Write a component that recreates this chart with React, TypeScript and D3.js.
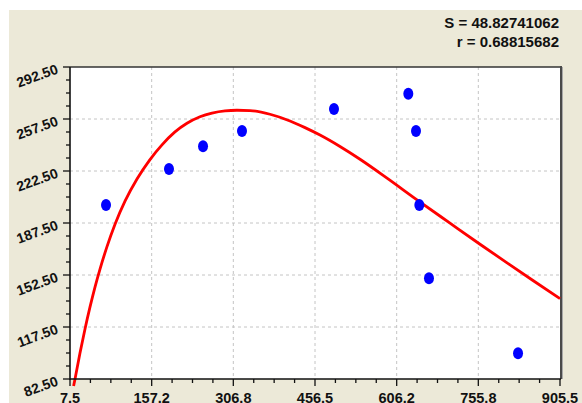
import React from "react";
import * as d3 from "d3";

const xTickLabels = ["7.5", "157.2", "306.8", "456.5", "606.2", "755.8", "905.5"];
const yTickLabels = ["82.50", "117.50", "152.50", "187.50", "222.50", "257.50", "292.50"];

const pointX = [73.5, 188.9, 251.3, 322.7, 491.3, 627.5, 641.6, 647.7, 665.4, 828.6];
const pointY = [199.6, 223.8, 239.1, 249.4, 264.2, 274.5, 249.4, 199.6, 150.3, 99.8];

const curveX = [14.1, 16.7, 25.8, 35.0, 44.2, 53.3, 62.5, 75.3, 90.0, 108.3, 130.3, 154.1, 176.1, 199.9, 221.9, 245.7, 267.7, 291.6, 313.5, 337.4, 374.0, 410.7, 438.2, 465.7, 502.3, 539.0, 588.5, 643.4, 703.9, 758.9, 813.9, 856.0, 905.5];
const curveY = [77.8, 82.5, 100.0, 116.2, 131.0, 144.4, 156.5, 171.6, 186.7, 202.2, 217.1, 230.2, 240.1, 248.8, 254.6, 259.0, 261.5, 263.0, 263.4, 263.2, 260.7, 256.2, 251.7, 246.7, 239.0, 230.4, 217.7, 203.1, 187.4, 173.2, 159.3, 148.8, 136.6];

const statLines = ["S = 48.82741062", "r = 0.68815682"];

export default function App() {
  const W = 582, H = 403;
  const L = 70, R = 560, T = 67, B = 379;
  const xVals = xTickLabels.map(Number);
  const yVals = yTickLabels.map(Number);
  const x = d3.scaleLinear().domain([xVals[0], xVals[xVals.length - 1]]).range([L, R]);
  const y = d3.scaleLinear().domain([yVals[0], yVals[yVals.length - 1]]).range([B, T]);

  const xMinor: number[] = [];
  for (let i = 0; i < xVals.length - 1; i++) {
    for (let k = 1; k < 4; k++) xMinor.push(xVals[i] + ((xVals[i + 1] - xVals[i]) * k) / 4);
  }
  const yMinor: number[] = [];
  for (let i = 0; i < yVals.length - 1; i++) {
    for (let k = 1; k < 4; k++) yMinor.push(yVals[i] + ((yVals[i + 1] - yVals[i]) * k) / 4);
  }

  const line = d3
    .line<number>()
    .x((_, i) => x(curveX[i]))
    .y((_, i) => y(curveY[i]))
    .curve(d3.curveMonotoneX);
  const pathD = line(curveX) || "";

  const font = "'Liberation Sans', Arial, sans-serif";

  return (
    <svg
      width={W}
      height={H}
      style={{ position: "absolute", left: 0, top: 0, display: "block" }}
    >
      <rect x={0} y={0} width={W} height={H} fill="#ffffff" />
      <rect x={9} y={10} width={W - 9} height={H - 10} fill="#ece9d8" />
      <rect x={L} y={T} width={R - L} height={B - T} fill="#ffffff" />

      {/* grid */}
      {xVals.slice(1, -1).map((v, i) => (
        <line key={"gx" + i} x1={x(v)} x2={x(v)} y1={T} y2={B} stroke="#c4c4c4" strokeWidth={1} strokeDasharray="3,3" />
      ))}
      {yVals.slice(1, -1).map((v, i) => (
        <line key={"gy" + i} x1={L} x2={R} y1={y(v)} y2={y(v)} stroke="#c4c4c4" strokeWidth={1} strokeDasharray="3,3" />
      ))}

      {/* borders */}
      <line x1={L} x2={R} y1={T} y2={T} stroke="#333" strokeWidth={1.5} />
      <line x1={R + 1} x2={R + 1} y1={T - 1} y2={B} stroke="#4a4a4a" strokeWidth={2} />
      <line x1={R + 2.5} x2={R + 2.5} y1={T} y2={B} stroke="#a8a8a8" strokeWidth={1} />

      {/* curve */}
      <path d={pathD} fill="none" stroke="#ff0000" strokeWidth={2.8} strokeLinejoin="round" />

      {/* points */}
      {pointX.map((px, i) => (
        <ellipse key={"p" + i} cx={x(px)} cy={y(pointY[i])} rx={5} ry={6} fill="#0000ff" />
      ))}

      {/* axes */}
      <line x1={L} x2={L} y1={T} y2={B + 1} stroke="#111" strokeWidth={1.6} />
      <line x1={L} x2={R + 1} y1={B} y2={B} stroke="#111" strokeWidth={1.6} />
      {yVals.map((v, i) => (
        <line key={"ty" + i} x1={L - 7} x2={L} y1={y(v)} y2={y(v)} stroke="#111" strokeWidth={1.3} />
      ))}
      {yMinor.map((v, i) => (
        <line key={"tym" + i} x1={L - 4} x2={L} y1={y(v)} y2={y(v)} stroke="#111" strokeWidth={1.3} />
      ))}
      {xVals.map((v, i) => (
        <line key={"tx" + i} x1={x(v)} x2={x(v)} y1={B} y2={B + 7} stroke="#111" strokeWidth={1.3} />
      ))}
      {xMinor.map((v, i) => (
        <line key={"txm" + i} x1={x(v)} x2={x(v)} y1={B} y2={B + 4} stroke="#111" strokeWidth={1.3} />
      ))}

      {/* tick labels */}
      {yTickLabels.map((t, i) => (
        <text
          key={"ly" + i}
          transform={`translate(${L - 11},${y(yVals[i]) + 6}) rotate(-20)`}
          textAnchor="end"
          fontFamily={font}
          fontWeight="bold"
          fontSize={14}
          fill="#111"
        >
          {t}
        </text>
      ))}
      {xTickLabels.map((t, i) => (
        <text
          key={"lx" + i}
          x={x(xVals[i])}
          y={402.5}
          textAnchor="middle"
          fontFamily={font}
          fontWeight="bold"
          fontSize={14.5}
          fill="#111"
        >
          {t}
        </text>
      ))}

      {/* stats */}
      {statLines.map((s, i) => (
        <text
          key={"s" + i}
          x={559}
          y={28.3 + i * 19}
          textAnchor="end"
          fontFamily={font}
          fontWeight="bold"
          fontSize={15}
          fill="#111"
        >
          {s}
        </text>
      ))}
    </svg>
  );
}
